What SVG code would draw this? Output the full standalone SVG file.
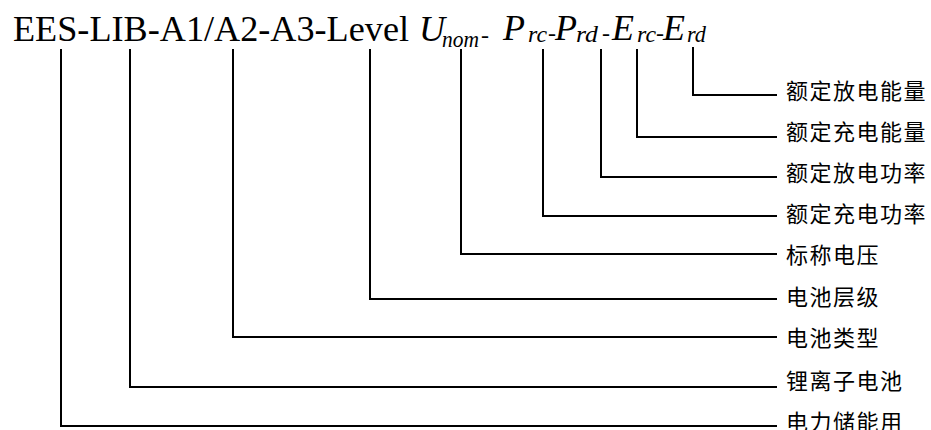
<svg xmlns="http://www.w3.org/2000/svg" width="931" height="430" viewBox="0 0 931 430">
<style>
.t{font-family:'Liberation Serif','Times New Roman',serif;fill:#000}
.i{font-style:italic}
.big{font-size:36px}
.sub{font-size:24px}
.lab{font-family:'Noto Sans CJK SC','Noto Sans',sans-serif;font-size:22px;letter-spacing:1.5px;fill:#000}
.c{fill:none;stroke:#000;stroke-width:2}
</style>
<rect width="931" height="430" fill="#fff"/>
<g id="code">
<text class="t" x="13" y="41" font-size="36" textLength="396" lengthAdjust="spacingAndGlyphs">EES-LIB-A1/A2-A3-Level</text>
<text class="t i big" x="419" y="41">U</text>
<text class="t i sub" x="442" y="47" textLength="37" lengthAdjust="spacingAndGlyphs">nom</text>
<text class="t sub" x="481" y="43">-</text>
<text class="t i big" x="503" y="40">P</text>
<text class="t i sub" x="528" y="42" textLength="19" lengthAdjust="spacingAndGlyphs">rc</text>
<text class="t sub" x="548" y="41">-</text>
<text class="t i big" x="555" y="40">P</text>
<text class="t i sub" x="576" y="42" textLength="22" lengthAdjust="spacingAndGlyphs">rd</text>
<text class="t sub" x="602" y="41">-</text>
<text class="t i big" x="612" y="40">E</text>
<text class="t i sub" x="637" y="42" textLength="19" lengthAdjust="spacingAndGlyphs">rc</text>
<text class="t sub" x="656" y="41">-</text>
<text class="t i big" x="663" y="40">E</text>
<text class="t i sub" x="687" y="42" textLength="19" lengthAdjust="spacingAndGlyphs">rd</text>
</g>
<g id="connectors">
<path class="c" d="M693 47V95H777"/>
<path class="c" d="M637 49V137H777"/>
<path class="c" d="M601 49V177H777"/>
<path class="c" d="M543 49V216H777"/>
<path class="c" d="M461 49V254H777"/>
<path class="c" d="M370 49V299H777"/>
<path class="c" d="M233 49V337H777"/>
<path class="c" d="M130 49V387H777"/>
<path class="c" d="M61 49V426H777"/>
</g>
<g id="n1"><text class="lab" x="786" y="99">额定放电能量</text></g>
<g id="n2"><text class="lab" x="786" y="140">额定充电能量</text></g>
<g id="n3"><text class="lab" x="786" y="181">额定放电功率</text></g>
<g id="n4"><text class="lab" x="786" y="222">额定充电功率</text></g>
<g id="n5"><text class="lab" x="786" y="263">标称电压</text></g>
<g id="n6"><text class="lab" x="786" y="305">电池层级</text></g>
<g id="n7"><text class="lab" x="786" y="346">电池类型</text></g>
<g id="n8"><text class="lab" x="786" y="389">锂离子电池</text></g>
<g id="n9"><text class="lab" x="786" y="430">电力储能用</text></g>
</svg>
